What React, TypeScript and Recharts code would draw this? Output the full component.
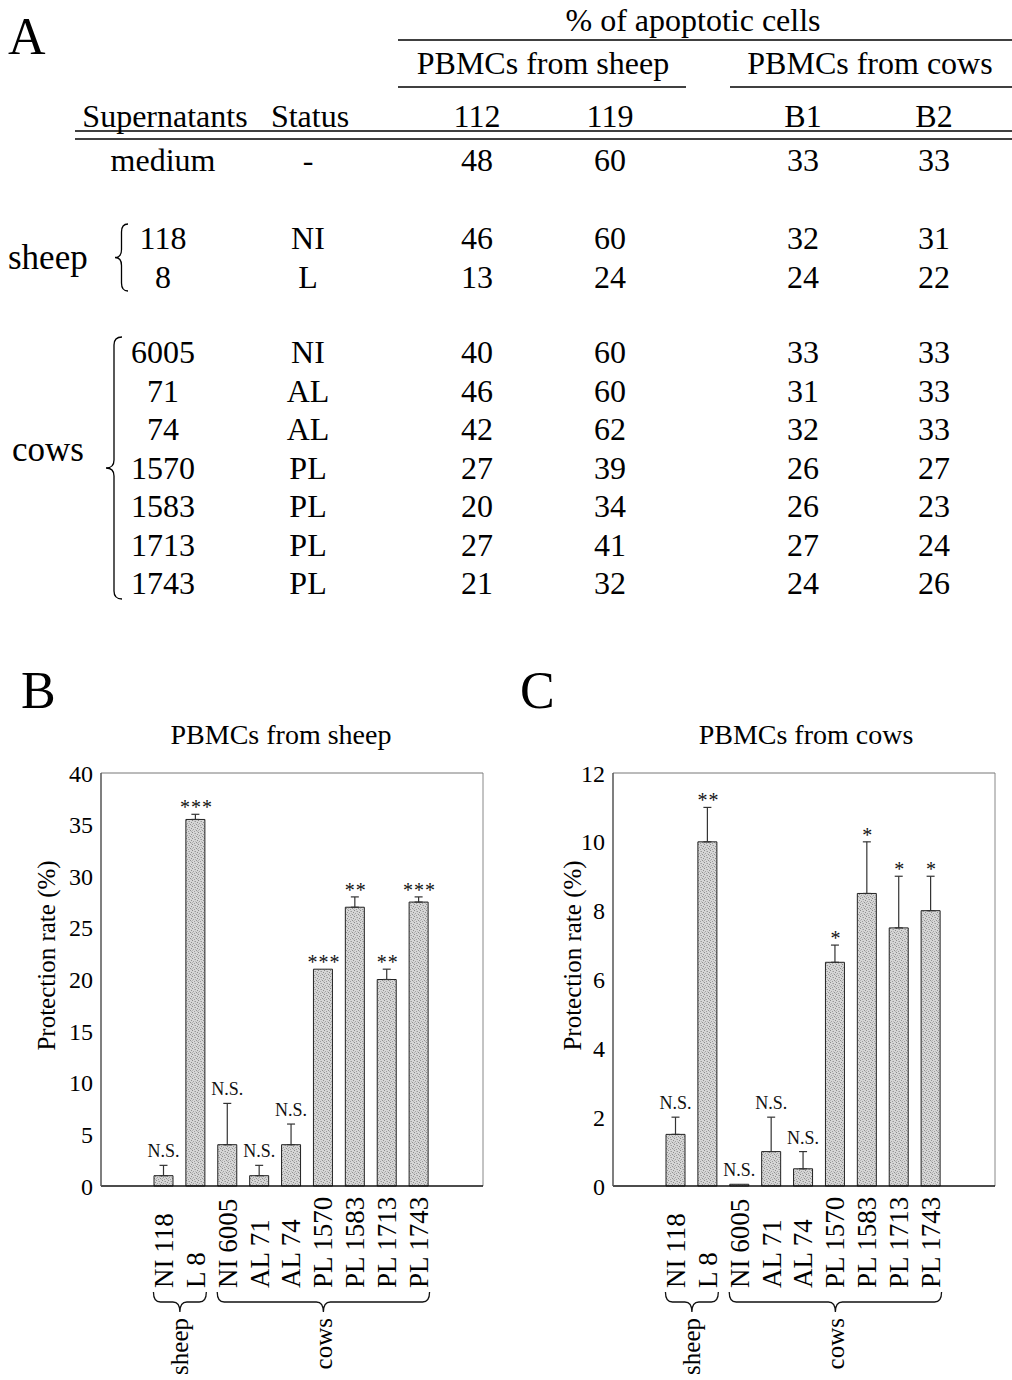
import React from 'react';
import { BarChart, Bar, XAxis, YAxis, ErrorBar, LabelList, CartesianGrid, ReferenceLine } from 'recharts';

const SERIF = '"Liberation Serif", "Times New Roman", Times, serif';

// ---------------- Panel A (table) data ----------------
const cellColumns = ['112', '119', 'B1', 'B2'];
const supernatants = ['medium', '118', '8', '6005', '71', '74', '1570', '1583', '1713', '1743'];
const statuses = ['-', 'NI', 'L', 'NI', 'AL', 'AL', 'PL', 'PL', 'PL', 'PL'];
const apoptosis112 = [48, 46, 13, 40, 46, 42, 27, 20, 27, 21];
const apoptosis119 = [60, 60, 24, 60, 60, 62, 39, 34, 41, 32];
const apoptosisB1 = [33, 32, 24, 33, 31, 32, 26, 26, 27, 24];
const apoptosisB2 = [33, 31, 22, 33, 33, 33, 27, 23, 24, 26];

// ---------------- Panels B & C data ----------------
const categories = ['NI 118', 'L 8', 'NI 6005', 'AL 71', 'AL 74', 'PL 1570', 'PL 1583', 'PL 1713', 'PL 1743'];
const categoryGroups = [
  { name: 'sheep', start: 0, count: 2 },
  { name: 'cows', start: 2, count: 7 },
];
const sheepPbmcMeans = [1, 35.5, 4, 1, 4, 21, 27, 20, 27.5];
const sheepPbmcErrors = [1, 0.5, 4, 1, 2, 0, 1, 1, 0.5];
const sheepPbmcSignif = ['N.S.', '***', 'N.S.', 'N.S.', 'N.S.', '***', '**', '**', '***'];
const sheepTicks = [0, 5, 10, 15, 20, 25, 30, 35, 40];

const cowPbmcMeans = [1.5, 10, 0.05, 1, 0.5, 6.5, 8.5, 7.5, 8];
const cowPbmcErrors = [0.5, 1, 0, 1, 0.5, 0.5, 1.5, 1.5, 1];
const cowPbmcSignif = ['N.S.', '**', 'N.S.', 'N.S.', 'N.S.', '*', '*', '*', '*'];
const cowTicks = [0, 2, 4, 6, 8, 10, 12];

// ---------------- layout ----------------
const BAR_SIZE = 19;
const tableRowY = [160, 238, 277, 352, 390.5, 429, 467.5, 506, 544.5, 583];
const tableColX = [477, 610, 803, 934];

const CategoryTick = (props: any) => {
  const { x, y, payload, index } = props;
  const half = payload && typeof payload.offset === 'number' && payload.offset > 0 ? payload.offset : 16;
  const textY = y + 94;
  const group = categoryGroups.find((g) => g.start === index);
  let brace: any = null;
  if (group) {
    const x1 = x - BAR_SIZE / 2 - 1;
    const x2 = x + (group.count - 1) * 2 * half + BAR_SIZE / 2 + 1;
    const xm = (x1 + x2) / 2;
    const y0 = y + 98;
    const y1 = y + 108;
    const y2 = y + 118;
    const r = 7;
    const d = `M${x1},${y0} Q${x1},${y1} ${x1 + r},${y1} L${xm - r},${y1} Q${xm},${y1} ${xm},${y2} Q${xm},${y1} ${xm + r},${y1} L${x2 - r},${y1} Q${x2},${y1} ${x2},${y0}`;
    const ly = y + 124;
    brace = (
      <g>
        <path d={d} fill="none" stroke="#111" strokeWidth={1.3} />
        <text
          x={xm}
          y={ly}
          transform={`rotate(-90 ${xm} ${ly})`}
          textAnchor="end"
          dy="0.33em"
          fontFamily={SERIF}
          fontSize={25}
          fill="#000"
        >
          {group.name}
        </text>
      </g>
    );
  }
  return (
    <g>
      <text
        x={x}
        y={textY}
        transform={`rotate(-90 ${x} ${textY})`}
        textAnchor="start"
        dy="0.33em"
        fontFamily={SERIF}
        fontSize={27}
        fill="#000"
      >
        {payload.value}
      </text>
      {brace}
    </g>
  );
};

const makeSigLabel = (means: number[], errors: number[]) => (props: any) => {
  const vb = props.viewBox || props;
  const x = vb.x ?? props.x;
  const y = vb.y ?? props.y;
  const w = vb.width ?? props.width;
  const h = Math.abs(vb.height ?? props.height ?? 0);
  const i = props.index;
  const value = props.value;
  const m = means[i];
  const pxPerUnit = m > 0 ? h / m : 0;
  const errTop = y - errors[i] * pxPerUnit;
  const isStar = String(value).startsWith('*');
  return (
    <text
      x={x + w / 2 + (isStar ? 1 : 0)}
      y={errTop - (isStar ? 0 : 8)}
      textAnchor="middle"
      fontFamily={SERIF}
      fontSize={isStar ? 20 : 18}
      letterSpacing={isStar ? 1 : 0}
      fill="#111"
    >
      {value}
    </text>
  );
};

function ProtectionChart(props: {
  left: number;
  means: number[];
  errors: number[];
  signif: string[];
  ticks: number[];
  patternId: string;
  yLabelDx: number;
}) {
  const { left, means, errors, signif, ticks, patternId, yLabelDx } = props;
  const yMax = ticks[ticks.length - 1];
  const data = categories.map((name, i) => ({
    name,
    mean: means[i],
    err: errors[i] > 0 ? [0, errors[i]] : 0,
    sig: signif[i],
  }));
  const yLabel = (p: any) => {
    const vb = p.viewBox;
    const cx = vb.x + yLabelDx;
    const cy = vb.y + vb.height / 2 - 24;
    return (
      <text
        x={cx}
        y={cy}
        transform={`rotate(-90 ${cx} ${cy})`}
        textAnchor="middle"
        dominantBaseline="central"
        fontFamily={SERIF}
        fontSize={25}
        fill="#000"
      >
        Protection rate (%)
      </text>
    );
  };
  return (
    <div style={{ position: 'absolute', left, top: 700, width: 500, height: 680 }}>
      <BarChart
        width={500}
        height={680}
        data={data}
        margin={{ top: 73, right: 17, bottom: 44, left: 40 }}
        barSize={BAR_SIZE}
      >
        <defs>
          <pattern id={patternId} width="6" height="6" patternUnits="userSpaceOnUse">
            <rect width="6" height="6" fill="#d6d6d6" />
            <rect x="0" y="0" width="1" height="1" fill="#8a8a8a" />
            <rect x="3" y="1" width="1" height="1" fill="#9a9a9a" />
            <rect x="5" y="2" width="1" height="1" fill="#8e8e8e" />
            <rect x="1" y="3" width="1" height="1" fill="#a2a2a2" />
            <rect x="4" y="4" width="1" height="1" fill="#909090" />
            <rect x="2" y="5" width="1" height="1" fill="#9c9c9c" />
            <rect x="2" y="1" width="1" height="1" fill="#b8b8b8" />
            <rect x="5" y="5" width="1" height="1" fill="#b4b4b4" />
            <rect x="0" y="4" width="1" height="1" fill="#b6b6b6" />
            <rect x="3" y="3" width="1" height="1" fill="#bababa" />
          </pattern>
        </defs>
        <CartesianGrid
          horizontal={false}
          vertical={true}
          verticalCoordinatesGenerator={(g: any) => [g.offset.left + g.offset.width]}
          stroke="#888"
          strokeWidth={1}
        />
        <ReferenceLine y={yMax} stroke="#777" strokeWidth={1} />
        <XAxis
          dataKey="name"
          interval={0}
          tickLine={false}
          axisLine={{ stroke: '#111', strokeWidth: 1.5 }}
          padding={{ left: 47, right: 48 }}
          height={150}
          tick={(p: any) => <CategoryTick {...p} />}
        />
        <YAxis
          domain={[0, yMax]}
          ticks={ticks}
          interval={0}
          tickLine={false}
          width={61}
          axisLine={{ stroke: '#555', strokeWidth: 1.5 }}
          tick={{ fontFamily: SERIF, fontSize: 24, fill: '#000' }}
          label={{ content: yLabel }}
        />
        <Bar dataKey="mean" fill={`url(#${patternId})`} stroke="#222" strokeWidth={1} isAnimationActive={false}>
          <ErrorBar dataKey="err" width={4} stroke="#333" strokeWidth={1.2} direction="y" />
          <LabelList dataKey="sig" content={makeSigLabel(means, errors)} />
        </Bar>
      </BarChart>
    </div>
  );
}

function verticalBrace(x0: number, yTop: number, yBot: number, depth: number) {
  const xMid = x0 - depth / 2;
  const ym = (yTop + yBot) / 2;
  const r = 8;
  return `M${x0},${yTop} Q${xMid},${yTop} ${xMid},${yTop + r} L${xMid},${ym - r} Q${xMid},${ym} ${x0 - depth},${ym} Q${xMid},${ym} ${xMid},${ym + r} L${xMid},${yBot - r} Q${xMid},${yBot} ${x0},${yBot}`;
}

function TablePanel() {
  const txt = { fontFamily: SERIF, fontSize: 32, fill: '#000', dominantBaseline: 'central' as const };
  const valueCols = [apoptosis112, apoptosis119, apoptosisB1, apoptosisB2];
  return (
    <g>
      <text x={693} y={20} textAnchor="middle" {...txt}>% of apoptotic cells</text>
      <line x1={398} y1={40} x2={1012} y2={40} stroke="#000" strokeWidth={1.6} />
      <text x={543} y={63} textAnchor="middle" {...txt}>PBMCs from sheep</text>
      <text x={870} y={63} textAnchor="middle" {...txt}>PBMCs from cows</text>
      <line x1={398} y1={87} x2={686} y2={87} stroke="#000" strokeWidth={1.6} />
      <line x1={730} y1={87} x2={1012} y2={87} stroke="#000" strokeWidth={1.6} />
      <text x={165} y={116} textAnchor="middle" {...txt}>Supernatants</text>
      <text x={310} y={116} textAnchor="middle" {...txt}>Status</text>
      {cellColumns.map((c, i) => (
        <text key={c} x={tableColX[i]} y={116} textAnchor="middle" {...txt}>{c}</text>
      ))}
      <line x1={75} y1={131} x2={1012} y2={131} stroke="#000" strokeWidth={1.6} />
      <line x1={75} y1={139} x2={1012} y2={139} stroke="#000" strokeWidth={1.6} />
      {supernatants.map((s, r) => (
        <g key={r}>
          <text x={163} y={tableRowY[r]} textAnchor="middle" {...txt}>{s}</text>
          <text x={308} y={tableRowY[r]} textAnchor="middle" {...txt}>{statuses[r]}</text>
          {valueCols.map((col, c) => (
            <text key={c} x={tableColX[c]} y={tableRowY[r]} textAnchor="middle" {...txt}>{col[r]}</text>
          ))}
        </g>
      ))}
      <text x={8} y={257} textAnchor="start" {...txt} fontSize={35}>sheep</text>
      <path d={verticalBrace(128, 224, 291, 13)} fill="none" stroke="#000" strokeWidth={1.3} />
      <text x={12} y={449} textAnchor="start" {...txt} fontSize={35}>cows</text>
      <path d={verticalBrace(122, 337, 599, 16)} fill="none" stroke="#000" strokeWidth={1.3} />
    </g>
  );
}

export default function App() {
  const letter = { fontFamily: SERIF, fontSize: 52, fill: '#000' };
  const title = { fontFamily: SERIF, fontSize: 28, fill: '#000' };
  return (
    <div
      style={{
        position: 'absolute',
        left: 0,
        top: 0,
        width: 1012,
        height: 1380,
        background: '#fff',
        overflow: 'hidden',
      }}
    >
      <svg width={1012} height={1380} style={{ position: 'absolute', left: 0, top: 0 }}>
        <text x={8} y={54} {...letter}>A</text>
        <TablePanel />
        <text x={21} y={708} {...letter}>B</text>
        <text x={520} y={708} {...letter}>C</text>
        <text x={281} y={744} textAnchor="middle" {...title}>PBMCs from sheep</text>
        <text x={806} y={744} textAnchor="middle" {...title}>PBMCs from cows</text>
      </svg>
      <ProtectionChart
        left={0}
        means={sheepPbmcMeans}
        errors={sheepPbmcErrors}
        signif={sheepPbmcSignif}
        ticks={sheepTicks}
        patternId="stippleB"
        yLabelDx={6}
      />
      <ProtectionChart
        left={512}
        means={cowPbmcMeans}
        errors={cowPbmcErrors}
        signif={cowPbmcSignif}
        ticks={cowTicks}
        patternId="stippleC"
        yLabelDx={20}
      />
    </div>
  );
}
